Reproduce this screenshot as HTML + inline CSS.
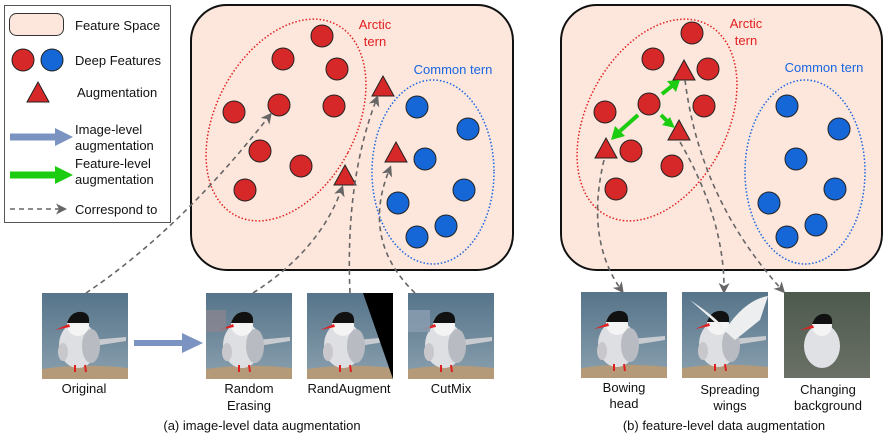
<!DOCTYPE html>
<html><head><meta charset="utf-8"><style>
html,body{margin:0;padding:0;background:#fff}
svg{display:block;font-family:"Liberation Sans",Arial,sans-serif}
</style></head><body>
<svg width="890" height="440" viewBox="0 0 890 440" xmlns="http://www.w3.org/2000/svg">
<defs>
<linearGradient id="sea" x1="0" y1="0" x2="0" y2="1"><stop offset="0" stop-color="#56748a"/><stop offset="1" stop-color="#8aa0ae"/></linearGradient>
<linearGradient id="gr" x1="0" y1="0" x2="0" y2="1"><stop offset="0" stop-color="#4e5a4e"/><stop offset="1" stop-color="#6a7066"/></linearGradient>
<marker id="ah" markerWidth="11" markerHeight="11" refX="8" refY="5.5" orient="auto" markerUnits="userSpaceOnUse"><path d="M0,0 L11,5.5 L0,11 L3,5.5 Z" fill="#666"/></marker>
<g id="bird">
<rect x="0" y="0" width="86" height="86" fill="url(#sea)"/>
<path d="M0,76 Q40,70 86,75 L86,86 L0,86 Z" fill="#b59a7a"/>
<path d="M50,47 L84,44 L84,48 L52,53 Z" fill="#c8ccd0"/>
<ellipse cx="36" cy="52" rx="19" ry="23" fill="#dedfe2"/>
<ellipse cx="49" cy="53" rx="9" ry="17" fill="#b8bcc2"/>
<ellipse cx="21" cy="59" rx="5" ry="9" fill="#c8c8cc"/>
<circle cx="36" cy="32" r="11" fill="#f4f4f4"/>
<path d="M25,30 Q29,18 40,19 Q48,20 47,30 Z" fill="#111"/>
<path d="M27,31 L13,37 L28,34 Z" fill="#e02020"/>
<path d="M33,72 L33,79 M43,72 L44,79" stroke="#e02020" stroke-width="2"/>
</g>
<g id="tri"><path d="M0,-11 L11,9 L-11,9 Z" fill="#d62828" stroke="#222" stroke-width="1"/></g>
</defs>

<!-- Legend -->
<rect x="4.5" y="5.5" width="166" height="217" fill="#fff" stroke="#555" stroke-width="1"/>
<rect x="9.5" y="13.5" width="54" height="22" rx="7" fill="#fde6dc" stroke="#333"/>
<circle cx="23" cy="60" r="11" fill="#d62828" stroke="#222"/>
<circle cx="52" cy="60" r="11" fill="#1566d6" stroke="#222"/>
<use href="#tri" x="38" y="93"/>
<path d="M10,137 L57,137" stroke="#7b93c0" stroke-width="7"/><path d="M55,128 L73,137 L55,146 Z" fill="#7b93c0"/>
<path d="M10,175 L57,175" stroke="#1ccc10" stroke-width="7"/><path d="M55,166 L73,175 L55,184 Z" fill="#1ccc10"/>
<path d="M10,209 L64,209" stroke="#666" stroke-width="1.5" stroke-dasharray="5,4" marker-end="url(#ah)"/>
<g font-size="13" fill="#111">
<text x="75" y="30">Feature Space</text>
<text x="75" y="65">Deep Features</text>
<text x="77" y="97">Augmentation</text>
<text x="75" y="134">Image-level</text>
<text x="75" y="150">augmentation</text>
<text x="75" y="168">Feature-level</text>
<text x="75" y="184">augmentation</text>
<text x="75" y="214">Correspond to</text>
</g>

<!-- Panel a -->
<rect x="191" y="5" width="322" height="265" rx="36" fill="#fde6dc" stroke="#111" stroke-width="2"/>
<ellipse cx="286" cy="120" rx="70" ry="108" transform="rotate(28 286 120)" fill="none" stroke="#e02020" stroke-width="1.5" stroke-dasharray="1.5,2"/>
<ellipse cx="433" cy="172" rx="61" ry="92" fill="none" stroke="#1a66e0" stroke-width="1.5" stroke-dasharray="1.5,2"/>
<g fill="#d62828" stroke="#222">
<circle cx="322" cy="36" r="11"/><circle cx="283" cy="59" r="11"/><circle cx="337" cy="69" r="11"/>
<circle cx="234" cy="112" r="11"/><circle cx="279" cy="105" r="11"/><circle cx="334" cy="106" r="11"/>
<circle cx="260" cy="151" r="11"/><circle cx="301" cy="166" r="11"/><circle cx="245" cy="190" r="11"/>
</g>
<g fill="#1566d6" stroke="#222">
<circle cx="417" cy="107" r="11"/><circle cx="468" cy="129" r="11"/><circle cx="425" cy="159" r="11"/>
<circle cx="398" cy="203" r="11"/><circle cx="464" cy="190" r="11"/><circle cx="446" cy="226" r="11"/><circle cx="417" cy="237" r="11"/>
</g>
<use href="#tri" x="383" y="87"/><use href="#tri" x="396" y="153"/><use href="#tri" x="345" y="176"/>
<text x="375" y="29" font-size="13" fill="#e02020" text-anchor="middle">Arctic</text>
<text x="375" y="46" font-size="13" fill="#e02020" text-anchor="middle">tern</text>
<text x="453" y="74" font-size="13" fill="#1a66e0" text-anchor="middle">Common tern</text>
<g fill="none" stroke="#666" stroke-width="1.6" stroke-dasharray="5,4">
<path d="M86,293 Q180,230 270,115" marker-end="url(#ah)"/>
<path d="M253,293 Q320,250 342,188" marker-end="url(#ah)"/>
<path d="M350,293 Q345,180 377,98" marker-end="url(#ah)"/>
<path d="M415,293 Q360,240 390,168" marker-end="url(#ah)"/>
</g>

<!-- Panel b -->
<rect x="561" y="5" width="321" height="265" rx="36" fill="#fde6dc" stroke="#111" stroke-width="2"/>
<ellipse cx="657" cy="120" rx="70" ry="108" transform="rotate(28 657 120)" fill="none" stroke="#e02020" stroke-width="1.5" stroke-dasharray="1.5,2"/>
<ellipse cx="805" cy="172" rx="60" ry="92" fill="none" stroke="#1a66e0" stroke-width="1.5" stroke-dasharray="1.5,2"/>
<g fill="#d62828" stroke="#222">
<circle cx="692" cy="33" r="11"/><circle cx="653" cy="59" r="11"/><circle cx="708" cy="69" r="11"/>
<circle cx="605" cy="112" r="11"/><circle cx="649" cy="104" r="11"/><circle cx="704" cy="106" r="11"/>
<circle cx="631" cy="151" r="11"/><circle cx="672" cy="166" r="11"/><circle cx="616" cy="189" r="11"/>
</g>
<g fill="#1566d6" stroke="#222">
<circle cx="787" cy="106" r="11"/><circle cx="839" cy="129" r="11"/><circle cx="796" cy="159" r="11"/>
<circle cx="769" cy="203" r="11"/><circle cx="835" cy="189" r="11"/><circle cx="816" cy="225" r="11"/><circle cx="787" cy="237" r="11"/>
</g>
<use href="#tri" x="684" y="71"/><use href="#tri" x="679" y="131"/><use href="#tri" x="606" y="149"/>
<g stroke="#1ccc10" stroke-width="4"><path d="M662,94 L672,86"/><path d="M661,115 L667,121"/><path d="M638,115 L620,131"/></g>
<g fill="#1ccc10"><path d="M680,80 L676,92 L667,81 Z"/><path d="M675,128 L662,125 L670,117 Z"/><path d="M611,140 L615,126 L625,136 Z"/></g>
<text x="746" y="28" font-size="13" fill="#e02020" text-anchor="middle">Arctic</text>
<text x="746" y="45" font-size="13" fill="#e02020" text-anchor="middle">tern</text>
<text x="824" y="72" font-size="13" fill="#1a66e0" text-anchor="middle">Common tern</text>
<g fill="none" stroke="#666" stroke-width="1.6" stroke-dasharray="5,4">
<path d="M604,160 Q585,240 622,291" marker-end="url(#ah)"/>
<path d="M680,142 Q725,220 724,291" marker-end="url(#ah)"/>
<path d="M685,80 Q700,200 783,291" marker-end="url(#ah)"/>
</g>

<!-- Images -->
<use href="#bird" x="42" y="293"/>
<use href="#bird" x="206" y="293"/>
<rect x="206" y="310" width="20" height="22" fill="#8a8490" opacity="0.8"/>
<use href="#bird" x="307" y="293"/>
<path d="M363,293 L393,293 L393,379 Z" fill="#000"/>
<use href="#bird" x="408" y="293"/>
<rect x="408" y="310" width="22" height="22" fill="#8a9cb0" opacity="0.85"/>
<path d="M134,343 L184,343" stroke="#7b93c0" stroke-width="6"/><path d="M182,333 L203,343 L182,353 Z" fill="#7b93c0"/>

<use href="#bird" x="581" y="292"/>
<use href="#bird" x="682" y="292"/>
<path d="M690,300 Q720,320 725,330 Q745,300 768,296 L760,320 L735,340 Z" fill="#eceef0"/>
<g transform="translate(784,292)">
<rect width="86" height="86" fill="url(#gr)"/>
<ellipse cx="38" cy="54" rx="18" ry="22" fill="#e0e1e4"/>
<circle cx="38" cy="34" r="10" fill="#f4f4f4"/>
<path d="M28,32 Q32,21 42,22 Q49,23 48,32 Z" fill="#111"/>
<path d="M29,33 L16,38 L30,36 Z" fill="#e02020"/>
</g>

<g font-size="13" fill="#111" text-anchor="middle">
<text x="84" y="393">Original</text>
<text x="249" y="393">Random</text><text x="249" y="410">Erasing</text>
<text x="349" y="393">RandAugment</text>
<text x="451" y="393">CutMix</text>
<text x="262" y="430">(a) image-level data augmentation</text>
<text x="624" y="392">Bowing</text><text x="624" y="408">head</text>
<text x="730" y="394">Spreading</text><text x="730" y="410">wings</text>
<text x="828" y="394">Changing</text><text x="828" y="410">background</text>
<text x="724" y="430">(b) feature-level data augmentation</text>
</g>
</svg>
</body></html>
